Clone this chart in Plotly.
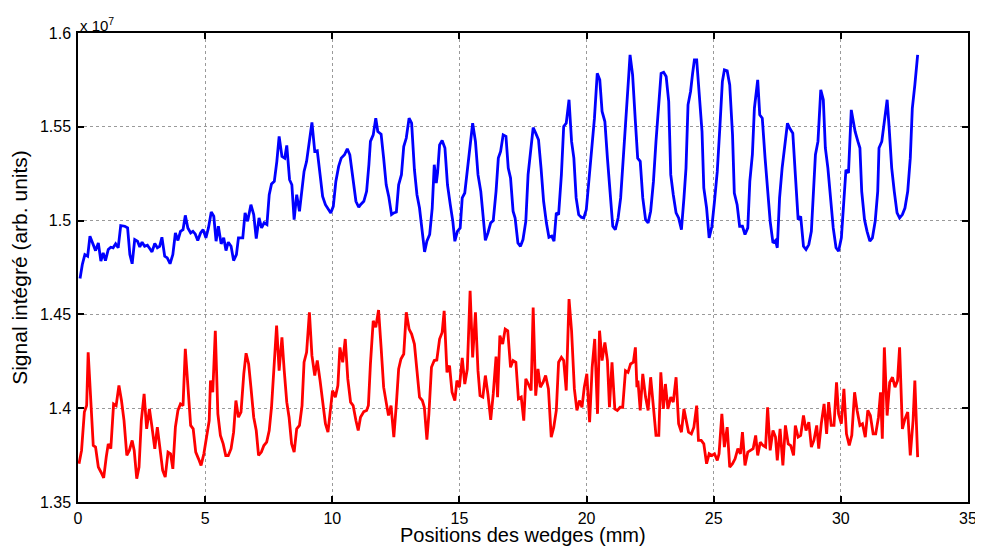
import plotly.graph_objects as go

# Positions (mm) and integrated signal (units of 1e7)
blue_x = [0.08,0.17,0.27,0.38,0.47,0.60,0.69,0.80,0.90,0.99,1.08,1.19,1.29,1.38,1.48,1.58,1.68,1.84,1.95,2.04,2.13,2.23,2.34,2.43,2.52,2.62,2.73,2.82,2.91,3.02,3.12,3.21,3.30,3.41,3.51,3.62,3.73,3.83,3.93,4.03,4.13,4.22,4.32,4.43,4.52,4.61,4.71,4.82,4.92,5.03,5.13,5.24,5.34,5.43,5.52,
          5.63,5.73,5.82,5.91,6.02,6.12,6.23,6.31,6.48,6.57,6.67,6.80,6.91,7.01,7.12,7.22,7.32,7.43,7.52,7.61,7.72,7.82,7.91,8.02,8.13,8.21,8.32,8.41,8.50,8.60,8.71,8.79,8.89,8.99,9.10,9.20,9.31,9.41,9.52,9.62,9.73,9.83,9.94,10.04,10.14,10.25,10.35,10.48,10.59,10.69,10.80,10.93,11.04,
          11.11,11.24,11.35,11.44,11.50,11.61,11.71,11.79,11.92,12.02,12.12,12.22,12.33,12.42,12.52,12.61,12.72,12.81,12.91,13.02,13.12,13.23,13.33,13.43,13.53,13.63,13.72,13.83,13.93,14.01,14.09,14.14,14.22,14.32,14.43,14.53,14.64,14.74,14.82,14.92,15.03,15.11,15.21,15.31,15.42,15.52,15.63,15.73,15.84,15.94,16.02,16.12,16.23,16.33,16.44,16.53,
          16.62,16.72,16.83,16.92,17.01,17.11,17.19,17.30,17.40,17.50,17.61,17.70,17.79,17.90,18.00,18.11,18.21,18.31,18.42,18.52,18.63,18.72,18.81,18.90,19.01,19.10,19.20,19.31,19.41,19.50,19.59,19.69,19.79,19.89,19.99,20.09,20.19,20.31,20.42,20.52,20.61,20.72,20.82,20.93,21.03,21.13,21.24,21.34,21.45,21.55,21.66,21.71,21.81,21.92,22.01,
          22.11,22.21,22.32,22.42,22.52,22.63,22.73,22.84,22.93,23.03,23.13,23.23,23.31,23.41,23.52,23.62,23.73,23.83,23.91,23.99,24.09,24.17,24.24,24.33,24.43,24.54,24.61,24.72,24.82,24.93,25.03,25.14,25.24,25.34,25.42,25.53,25.63,25.74,25.81,25.92,26.02,26.13,26.23,26.34,26.42,26.52,26.60,26.68,26.73,26.81,26.91,27.02,27.12,27.22,27.33,27.43,27.50,
          27.59,27.69,27.80,27.90,28.00,28.11,28.21,28.32,28.42,28.53,28.63,28.74,28.84,28.92,29.00,29.10,29.21,29.31,29.39,29.49,29.60,29.70,29.81,29.91,30.02,30.09,30.20,30.30,30.41,30.49,30.56,30.67,30.75,30.82,30.93,31.03,31.14,31.24,31.35,31.45,31.50,31.61,31.71,31.82,31.90,32.00,32.10,32.21,32.31,32.42,32.52,32.63,32.73,32.81,32.91,33.02]
blue_y = [1.4691,1.4766,1.4819,1.4810,1.4917,1.4872,1.4840,1.4881,1.4784,1.4828,1.4787,1.4846,1.4858,1.4855,1.4876,1.4855,1.4973,1.4970,1.4961,1.4819,1.4770,1.4899,1.4890,1.4860,1.4885,1.4863,1.4869,1.4851,1.4833,1.4878,1.4855,1.4863,1.4911,1.4810,1.4801,1.4770,1.4819,1.4934,1.4894,1.4943,1.4952,1.5028,1.4961,1.4934,1.4943,1.4929,1.4894,1.4934,1.4952,1.4908,1.4961,1.5046,1.5023,1.4890,1.4970,
          1.4876,1.4908,1.4840,1.4885,1.4863,1.4787,1.4819,1.4908,1.4908,1.5041,1.4996,1.5085,1.5032,1.4904,1.5014,1.4961,1.4988,1.4979,1.5138,1.5195,1.5209,1.5316,1.5449,1.5342,1.5333,1.5401,1.5218,1.5191,1.5005,1.5138,1.5050,1.5138,1.5262,1.5316,1.5422,1.5523,1.5369,1.5372,1.5245,1.5129,1.5085,1.5067,1.5041,1.5076,1.5209,1.5289,1.5333,1.5351,1.5383,1.5351,1.5227,1.5103,1.5071,
          1.5085,1.5103,1.5156,1.5298,1.5422,1.5457,1.5546,1.5475,1.5461,1.5333,1.5191,1.5129,1.5032,1.5041,1.5046,1.5191,1.5245,1.5395,1.5440,1.5546,1.5519,1.5271,1.5138,1.5067,1.4961,1.4833,1.4890,1.4926,1.5067,1.5298,1.5200,1.5254,1.5404,1.5427,1.5387,1.5191,1.5085,1.4996,1.4890,1.4943,1.4961,1.5121,1.5147,1.5262,1.5422,1.5519,1.5422,1.5245,1.5156,1.4996,1.4895,1.4934,1.4988,1.5000,1.5156,1.5333,
          1.5369,1.5457,1.5449,1.5280,1.5227,1.5050,1.5014,1.4881,1.4863,1.4899,1.4996,1.5245,1.5351,1.5496,1.5466,1.5431,1.5280,1.5103,1.4988,1.4911,1.4917,1.4890,1.5041,1.5032,1.5245,1.5502,1.5519,1.5644,1.5422,1.5333,1.5121,1.5032,1.5018,1.5014,1.5059,1.5209,1.5369,1.5546,1.5785,1.5750,1.5582,1.5528,1.5333,1.5156,1.4970,1.4952,1.5014,1.5121,1.5333,1.5511,1.5777,1.5883,1.5777,1.5528,1.5333,
          1.5316,1.5121,1.5005,1.4988,1.5050,1.5209,1.5422,1.5599,1.5785,1.5791,1.5768,1.5635,1.5245,1.5138,1.5041,1.5014,1.4952,1.5121,1.5280,1.5617,1.5688,1.5785,1.5856,1.5856,1.5688,1.5475,1.5174,1.5067,1.4908,1.4970,1.5103,1.5262,1.5493,1.5741,1.5803,1.5798,1.5723,1.5457,1.5147,1.5085,1.4970,1.4970,1.4926,1.4961,1.5209,1.5351,1.5599,1.5706,1.5750,1.5564,1.5546,1.5333,1.5138,1.4996,1.4881,1.4894,1.4855,
          1.5121,1.5280,1.5422,1.5519,1.5489,1.5466,1.5245,1.5005,1.5023,1.4863,1.4846,1.4872,1.4943,1.5121,1.5351,1.5422,1.5697,1.5644,1.5387,1.5280,1.5103,1.4961,1.4855,1.4837,1.4908,1.5067,1.5271,1.5254,1.5590,1.5528,1.5475,1.5422,1.5387,1.5156,1.5005,1.4943,1.4890,1.4908,1.4996,1.5156,1.5387,1.5422,1.5528,1.5644,1.5493,1.5280,1.5156,1.5041,1.5014,1.5032,1.5067,1.5156,1.5333,1.5599,1.5723,1.5883]

red_x = [0.04,0.14,0.25,0.34,0.40,0.51,0.60,0.69,0.80,0.90,1.01,1.11,1.19,1.29,1.40,1.50,1.61,1.71,1.81,1.92,2.02,2.13,2.21,2.31,2.40,2.49,2.60,2.70,2.81,2.91,3.02,3.12,3.22,3.33,3.43,3.54,3.64,3.73,3.83,3.93,4.03,4.13,4.22,4.32,4.43,4.53,4.63,4.74,4.84,4.95,5.05,5.16,5.21,5.30,5.40,5.50,
         5.60,5.71,5.81,5.91,6.02,6.12,6.21,6.31,6.41,6.52,6.61,6.71,6.80,6.91,7.01,7.10,7.21,7.31,7.42,7.52,7.61,7.72,7.81,7.91,8.02,8.11,8.21,8.30,8.40,8.50,8.60,8.71,8.81,8.89,8.99,9.10,9.20,9.31,9.41,9.52,9.62,9.73,9.83,9.94,10.01,10.12,10.22,10.30,10.41,10.51,10.61,10.72,10.82,10.93,11.02,
         11.11,11.24,11.35,11.42,11.50,11.61,11.71,11.82,11.92,12.02,12.13,12.21,12.31,12.42,12.52,12.61,12.70,12.81,12.91,13.02,13.12,13.23,13.33,13.43,13.54,13.62,13.72,13.80,13.90,14.01,14.11,14.22,14.32,14.40,14.51,14.61,14.71,14.82,14.90,15.00,15.11,15.21,15.31,15.42,15.52,15.63,15.73,15.81,15.92,16.02,16.12,16.23,16.33,16.44,16.50,
         16.59,16.70,16.80,16.90,17.01,17.11,17.22,17.32,17.43,17.53,17.61,17.71,17.82,17.90,18.00,18.09,18.18,18.29,18.39,18.50,18.61,18.71,18.81,18.90,19.01,19.10,19.20,19.31,19.41,19.52,19.62,19.72,19.82,19.91,20.01,20.12,20.22,20.32,20.43,20.51,20.61,20.72,20.82,20.90,21.00,21.11,21.21,21.32,21.42,21.53,21.63,21.73,21.84,21.92,21.98,
         22.02,22.11,22.21,22.32,22.42,22.52,22.63,22.73,22.84,22.92,23.02,23.10,23.20,23.31,23.41,23.52,23.62,23.73,23.83,23.91,24.01,24.12,24.22,24.33,24.40,24.51,24.61,24.72,24.82,24.93,25.03,25.14,25.21,25.32,25.42,25.53,25.63,25.74,25.84,25.95,26.05,26.13,26.23,26.34,26.44,26.55,26.65,26.73,26.83,26.94,27.04,27.12,27.22,27.33,27.43,27.50,
         27.61,27.72,27.82,27.93,28.03,28.14,28.21,28.32,28.42,28.53,28.63,28.74,28.84,28.94,29.05,29.13,29.23,29.34,29.44,29.52,29.62,29.73,29.83,29.91,30.02,30.12,30.22,30.33,30.43,30.54,30.64,30.75,30.85,30.96,31.06,31.16,31.27,31.37,31.48,31.56,31.63,31.71,31.82,31.92,32.03,32.13,32.23,32.31,32.42,32.52,32.63,32.73,32.84,32.91,33.02]
red_y = [1.3704,1.3775,1.3979,1.4014,1.4298,1.3988,1.3801,1.3793,1.3686,1.3660,1.3629,1.3739,1.3810,1.3784,1.4023,1.4014,1.4121,1.4041,1.3934,1.3748,1.3775,1.3828,1.3775,1.3624,1.3686,1.3934,1.4076,1.3890,1.3996,1.3899,1.3784,1.3899,1.3793,1.3668,1.3633,1.3766,1.3757,1.3677,1.3899,1.3988,1.4023,1.4014,1.4316,1.4112,1.3908,1.3890,1.3766,1.3730,1.3695,1.3757,1.3846,1.3934,1.4147,1.4085,1.4413,1.3970,
         1.3855,1.3810,1.3748,1.3748,1.3784,1.3872,1.4041,1.3952,1.3979,1.4183,1.4293,1.4236,1.4112,1.3952,1.3881,1.3748,1.3766,1.3801,1.3819,1.3881,1.4005,1.4218,1.4440,1.4200,1.4378,1.4200,1.4032,1.3952,1.3810,1.3766,1.3890,1.3908,1.4014,1.4245,1.4298,1.4511,1.4280,1.4174,1.4254,1.4147,1.4023,1.3917,1.3872,1.3996,1.4094,1.4059,1.4121,1.4324,1.4245,1.4369,1.4156,1.4032,1.4014,1.3934,1.3881,
         1.3952,1.3982,1.3988,1.4014,1.4236,1.4466,1.4431,1.4523,1.4324,1.4112,1.4023,1.3961,1.4014,1.3846,1.4023,1.4209,1.4262,1.4289,1.4511,1.4422,1.4395,1.4342,1.4200,1.4059,1.4041,1.4005,1.3832,1.3970,1.4218,1.4254,1.4257,1.4369,1.4404,1.4519,1.4191,1.4227,1.4085,1.4041,1.4147,1.4112,1.4268,1.4129,1.4209,1.4626,1.4271,1.4511,1.4200,1.4067,1.4059,1.4174,1.4076,1.3938,1.4076,1.4275,1.4059,
         1.4387,1.4342,1.4422,1.4413,1.4218,1.4254,1.4245,1.4050,1.4059,1.3934,1.4156,1.4129,1.4094,1.4537,1.4067,1.4209,1.4112,1.4138,1.4174,1.4103,1.3846,1.3899,1.3988,1.4245,1.4271,1.4254,1.4094,1.4582,1.4413,1.4103,1.3988,1.4041,1.4005,1.4112,1.4183,1.3926,1.4218,1.4369,1.3970,1.4413,1.4254,1.4351,1.4254,1.4005,1.4245,1.3996,1.3988,1.4005,1.4005,1.4200,1.4191,1.4236,1.4245,1.4324,1.4112,
         1.4147,1.3988,1.4183,1.4059,1.3988,1.4165,1.4005,1.3855,1.3855,1.4191,1.3996,1.4129,1.3996,1.4059,1.4032,1.4165,1.3917,1.3872,1.3996,1.3934,1.3872,1.3863,1.3899,1.4014,1.3828,1.3828,1.3810,1.3704,1.3757,1.3748,1.3757,1.3722,1.3757,1.3970,1.3793,1.3899,1.3686,1.3704,1.3730,1.3784,1.3757,1.3872,1.3695,1.3766,1.3775,1.3784,1.3855,1.3748,1.3819,1.3801,1.3793,1.4005,1.3775,1.3881,1.3846,1.3722,
         1.3890,1.3695,1.3908,1.3810,1.3801,1.3748,1.3908,1.3846,1.3855,1.3961,1.3881,1.3926,1.3793,1.3828,1.3908,1.3784,1.3917,1.4023,1.3863,1.4032,1.3908,1.3908,1.4138,1.3970,1.3917,1.4103,1.3863,1.3801,1.3855,1.4085,1.3988,1.3908,1.3917,1.3846,1.3988,1.3961,1.3863,1.3863,1.3952,1.4085,1.3837,1.4324,1.3961,1.4138,1.4165,1.4112,1.4147,1.4324,1.3890,1.3943,1.3979,1.3748,1.3934,1.4147,1.3739]

x_ticks = [0, 5, 10, 15, 20, 25, 30, 35]
y_ticks = [1.35, 1.4, 1.45, 1.5, 1.55, 1.6]
y_ticktext = ["1.35", "1.4", "1.45", "1.5", "1.55", "1.6"]
x_title = "Positions des wedges (mm)"
y_title = "Signal intégré (arb. units)"

FONT = "Liberation Sans, Arial, Helvetica, sans-serif"

fig = go.Figure()
fig.add_trace(go.Scatter(x=blue_x, y=blue_y, mode="lines",
                         line=dict(color="#0000ff", width=2.8), showlegend=False))
fig.add_trace(go.Scatter(x=red_x, y=red_y, mode="lines",
                         line=dict(color="#ff0000", width=2.8), showlegend=False))

axis_common = dict(showline=True, linecolor="black", linewidth=1.5, mirror="allticks",
                   ticks="inside", ticklen=6, tickwidth=1.5, tickcolor="black",
                   showgrid=True, gridcolor="#9a9a9a", griddash="dot", gridwidth=1,
                   zeroline=False, automargin=False,
                   tickfont=dict(family=FONT, size=16, color="black"))

fig.update_xaxes(range=[0, 35], tickvals=x_ticks, ticklabelstandoff=1, **axis_common)
fig.update_yaxes(range=[1.35, 1.6], tickvals=y_ticks, ticktext=y_ticktext, ticklabelstandoff=2,
                 **axis_common,
                 title=dict(text=y_title, standoff=10,
                            font=dict(family=FONT, size=21, color="black")))

fig.add_annotation(text=x_title, xref="paper", yref="paper", x=0.5, y=0,
                   xanchor="center", yanchor="top", showarrow=False, yshift=-21,
                   borderpad=0, font=dict(family=FONT, size=20, color="black"))

fig.add_annotation(text="x 10<sup>7</sup>", xref="paper", yref="paper", x=0, y=1.0,
                   xanchor="left", yanchor="bottom", showarrow=False,
                   font=dict(family=FONT, size=15, color="black"), yshift=-3)

# the page body adds an 8px offset, so the figure is sized to the remaining window
fig.update_layout(width=975, height=540, paper_bgcolor="white", plot_bgcolor="white",
                  margin=dict(l=70, r=15, t=25, b=46))

fig.write_html("out.html")
